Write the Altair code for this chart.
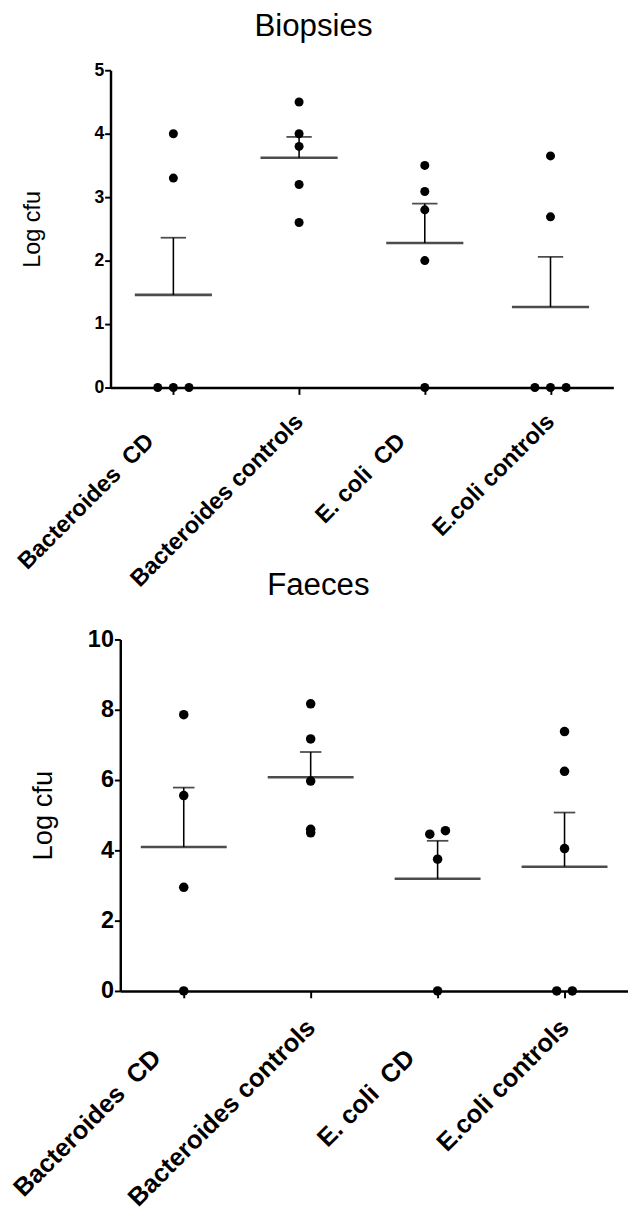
import altair as alt
import pandas as pd

categories = ["Bacteroides  CD", "Bacteroides controls", "E. coli  CD", "E.coli controls"]

# Biopsies (Log cfu), one list per group
bio_bact_cd = [4.0, 3.3, 0.0, 0.0, 0.0]
bio_bact_ctrl = [4.5, 4.0, 3.8, 3.2, 2.6]
bio_ecoli_cd = [3.5, 3.09, 2.8, 2.0, 0.0]
bio_ecoli_ctrl = [3.65, 2.69, 0.0, 0.0, 0.0]
# column-scatter slot of each point (for coincident values)
bio_slots = [[0, 0, -1, 0, 1], [0, 0, 0, 0, 0], [0, 0, 0, 0, 0], [0, 0, -1, 0, 1]]

# Faeces (Log cfu)
fae_bact_cd = [7.86, 5.56, 2.95, 0.0]
fae_bact_ctrl = [8.17, 7.17, 5.97, 4.5, 4.6]
fae_ecoli_cd = [4.46, 4.56, 3.75, 0.0]
fae_ecoli_ctrl = [7.38, 6.25, 4.05, 0.0, 0.0]
fae_slots = [[0, 0, 0, 0], [0, 0, 0, 0, 0], [-0.5, 0.5, 0, 0], [0, 0, 0, -0.5, 0.5]]

FONT = "Liberation Sans"


def make_df(groups, slots):
    rows = []
    for cat, vals, sl in zip(categories, groups, slots):
        for v, s in zip(vals, sl):
            rows.append({"group": cat, "value": v, "slot": s})
    return pd.DataFrame(rows)


bio_df = make_df([bio_bact_cd, bio_bact_ctrl, bio_ecoli_cd, bio_ecoli_ctrl], bio_slots)
fae_df = make_df([fae_bact_cd, fae_bact_ctrl, fae_ecoli_cd, fae_ecoli_ctrl], fae_slots)

label_expr = "replace(datum.label, '  ', ' \u00a0')"
IS_CD = "indexof(datum.value, 'CD') >= 0"


def panel(df, title, ymax, yvals, w, h, xrange, yoff, tick_font, title_font, cat_font,
          mean_w, cap_w, pt_size, jitter, title_pad, lab_pad, cd_pad, cd_off, title_off):
    xaxis = alt.Axis(title=None, labelAngle=-45, labelAlign="right", labelBaseline="middle",
                     labelFont=FONT, labelFontSize=cat_font, labelFontWeight="bold",
                     labelColor="black", labelExpr=label_expr,
                     labelPadding={"condition": {"test": IS_CD, "value": cd_pad}, "value": lab_pad},
                     labelOffset={"condition": {"test": IS_CD, "value": cd_off}, "value": 0},
                     domainColor="black", domainWidth=2.5, tickColor="black",
                     tickWidth=2, tickSize=7, labelLimit=400)
    x = alt.X("group:N", sort=categories, axis=xaxis,
              scale=alt.Scale(type="point", padding=0.5, range=xrange))

    yaxis = alt.Axis(title="Log cfu", values=yvals, titleFont=FONT, titleFontSize=title_font,
                     titleFontWeight="normal", titleColor="black", titlePadding=title_pad,
                     labelFont=FONT, labelFontSize=tick_font, labelFontWeight="bold",
                     labelColor="black", labelPadding=1, domainColor="black", offset=yoff,
                     domainWidth=2.5, tickColor="black", tickWidth=2, tickSize=6, grid=False)

    def yenc(field):
        return alt.Y(field, type="quantitative", scale=alt.Scale(domain=[0, ymax], nice=False),
                     axis=yaxis)

    base = alt.Chart(df)
    stats = base.transform_aggregate(
        avg="mean(value)", sem="stderr(value)", groupby=["group"]
    ).transform_calculate(upper="datum.avg + datum.sem")

    mean_line = stats.mark_tick(size=mean_w, thickness=2.6, color="black").encode(
        x=x, y=yenc("avg"))
    err = stats.mark_rule(strokeWidth=1.6, color="black").encode(
        x=x, y=yenc("avg"), y2="upper:Q")
    cap = stats.mark_tick(size=cap_w, thickness=1.8, color="black").encode(
        x=x, y=yenc("upper"))
    pts = base.mark_circle(size=pt_size, opacity=1, color="black").encode(
        x=x,
        xOffset=alt.XOffset("slot:Q", scale=alt.Scale(domain=[-1, 1], range=[-jitter, jitter])),
        y=yenc("value"))

    return alt.layer(mean_line, err, cap, pts).properties(
        width=w, height=h,
        title=alt.TitleParams(title, font=FONT, fontSize=32, fontWeight="normal",
                              color="black", anchor="middle", frame="bounds",
                              offset=title_off),
    )


top = panel(bio_df, "Biopsies", 5, [0, 1, 2, 3, 4, 5], 515, 325, [0, 515], 0,
            18, 24, 24, 79, 26, 85, 16, 51, 24, 44, -24, 19)
bottom = panel(fae_df, "Faeces", 10, [0, 2, 4, 6, 8, 10], 530, 360, [10, 530], -10,
               24, 28, 26, 88, 22, 95, 16, 31, 26, 57, -28, 27)

chart = alt.vconcat(top, bottom, spacing=-23).properties(
    padding={"left": 0, "top": -12, "right": 0, "bottom": 0},
    background="white",
).configure_view(stroke=None)

chart.save("out.html", embed_options={"renderer": "svg", "actions": False})
